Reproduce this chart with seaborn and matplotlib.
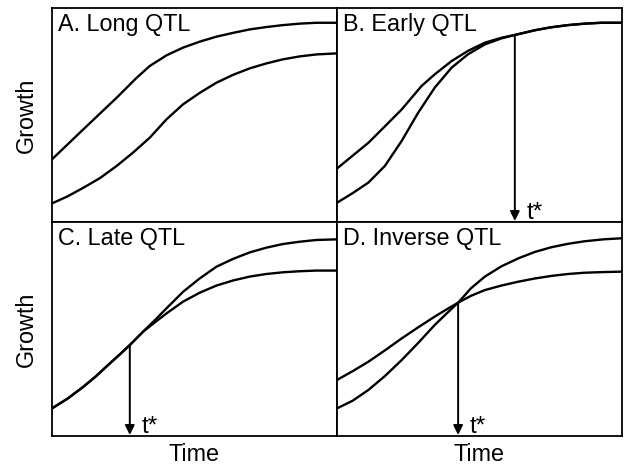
import matplotlib
matplotlib.use("Agg")
import matplotlib.pyplot as plt
import seaborn as sns

# ---- data (normalised time 0..1, growth 0..1) ----
titles = ["A. Long QTL", "B. Early QTL", "C. Late QTL", "D. Inverse QTL"]

a_x1 = [0, 0.11, 0.227, 0.297, 0.343, 0.402, 0.46, 0.519, 0.577, 0.636, 0.694, 0.752, 0.81, 0.87, 0.928, 1.0]
a_y1 = [0.293, 0.433, 0.581, 0.674, 0.729, 0.779, 0.815, 0.843, 0.866, 0.884, 0.90, 0.911, 0.92, 0.927, 0.931, 0.931]
a_x2 = [0, 0.055, 0.11, 0.168, 0.227, 0.285, 0.343, 0.402, 0.46, 0.519, 0.577, 0.636, 0.694, 0.752, 0.81, 0.87, 0.928, 1.0]
a_y2 = [0.087, 0.12, 0.16, 0.205, 0.262, 0.325, 0.394, 0.48, 0.55, 0.604, 0.651, 0.688, 0.718, 0.741, 0.76, 0.774, 0.783, 0.788]

b_x1 = [0, 0.055, 0.11, 0.168, 0.227, 0.297, 0.343, 0.402, 0.46, 0.519, 0.577, 0.624, 0.694, 0.752, 0.81, 0.87, 0.928, 1.0]
b_y1 = [0.25, 0.31, 0.37, 0.447, 0.526, 0.636, 0.69, 0.752, 0.80, 0.838, 0.861, 0.874, 0.896, 0.91, 0.92, 0.927, 0.931, 0.931]
b_x2 = [0, 0.055, 0.11, 0.168, 0.227, 0.285, 0.343, 0.402, 0.46, 0.519, 0.577, 0.624, 0.694, 0.752, 0.81, 0.87, 0.928, 1.0]
b_y2 = [0.09, 0.135, 0.184, 0.262, 0.379, 0.511, 0.628, 0.721, 0.784, 0.83, 0.858, 0.874, 0.896, 0.91, 0.92, 0.927, 0.931, 0.931]

c_x = [0, 0.055, 0.11, 0.155, 0.197, 0.237, 0.273, 0.32, 0.36, 0.402, 0.46, 0.519, 0.577, 0.636, 0.694, 0.752, 0.81, 0.87, 0.928, 1.0]
c_y1 = [0.129, 0.175, 0.23, 0.28, 0.332, 0.38, 0.425, 0.488, 0.54, 0.597, 0.674, 0.737, 0.791, 0.828, 0.858, 0.88, 0.897, 0.908, 0.916, 0.919]
c_y2 = [0.129, 0.175, 0.23, 0.28, 0.332, 0.38, 0.425, 0.488, 0.53, 0.573, 0.628, 0.67, 0.703, 0.727, 0.745, 0.757, 0.765, 0.77, 0.773, 0.773]

d_x1 = [0, 0.055, 0.11, 0.168, 0.227, 0.285, 0.343, 0.385, 0.425, 0.47, 0.519, 0.577, 0.636, 0.694, 0.752, 0.81, 0.869, 0.935, 1.0]
d_y1 = [0.262, 0.303, 0.347, 0.40, 0.456, 0.508, 0.558, 0.592, 0.623, 0.655, 0.682, 0.703, 0.721, 0.736, 0.748, 0.757, 0.763, 0.766, 0.768]
d_x2 = [0, 0.055, 0.11, 0.168, 0.227, 0.285, 0.343, 0.385, 0.425, 0.47, 0.519, 0.577, 0.636, 0.694, 0.752, 0.81, 0.869, 0.935, 1.0]
d_y2 = [0.129, 0.165, 0.215, 0.28, 0.355, 0.435, 0.519, 0.573, 0.623, 0.69, 0.745, 0.793, 0.83, 0.86, 0.882, 0.898, 0.91, 0.919, 0.924]

# t* crossing points (panels B, C, D)
tstar_x = [None, 0.624, 0.273, 0.425]
tstar_y = [None, 0.874, 0.425, 0.623]

curves = [
    [(a_x1, a_y1), (a_x2, a_y2)],
    [(b_x1, b_y1), (b_x2, b_y2)],
    [(c_x, c_y1), (c_x, c_y2)],
    [(d_x1, d_y1), (d_x2, d_y2)],
]

sns.set_style("white")
plt.rcParams["font.family"] = ["Liberation Sans", "DejaVu Sans"]
plt.rcParams["axes.labelcolor"] = "black"
plt.rcParams["text.color"] = "black"

W, H = 626, 466
fig = plt.figure(figsize=(W / 100, H / 100), dpi=100)

lefts = [52, 337]
widths = [285, 285]
tops = [8, 222]
height = 214
positions = [(0, 0), (1, 0), (0, 1), (1, 1)]

for i, (col, row) in enumerate(positions):
    l = lefts[col]
    t = tops[row]
    ax = fig.add_axes([l / W, (H - t - height) / H, widths[col] / W, height / H])
    for xs, ys in curves[i]:
        sns.lineplot(x=xs, y=ys, ax=ax, color="black", linewidth=1.7,
                     estimator=None, sort=False, solid_joinstyle="round",
                     solid_capstyle="round")
    ax.set_xlim(0, 1)
    ax.set_ylim(0, 1)
    ax.set_xticks([])
    ax.set_yticks([])
    for s in ax.spines.values():
        s.set_visible(True)
        s.set_color("black")
        s.set_linewidth(1.3)
    ax.text(0.022, 0.975, titles[i], transform=ax.transAxes, ha="left", va="top",
            fontsize=16.8, color="black")
    if tstar_x[i] is not None:
        ax.annotate("", xy=(tstar_x[i], 0.005), xytext=(tstar_x[i], tstar_y[i]),
                    arrowprops=dict(arrowstyle="-|>", color="black", lw=1.4,
                                    mutation_scale=14, shrinkA=0, shrinkB=0))
        ax.text(tstar_x[i] + 0.04, -0.01, "t*", ha="left", va="bottom",
                fontsize=17.5, color="black")
    if col == 0:
        ax.set_ylabel("Growth", fontsize=16.8, labelpad=10, color="black")
    else:
        ax.set_ylabel("")
    if row == 1:
        ax.set_xlabel("Time", fontsize=16.8, labelpad=5, color="black")
    else:
        ax.set_xlabel("")

fig.savefig("out.png", dpi=100)
